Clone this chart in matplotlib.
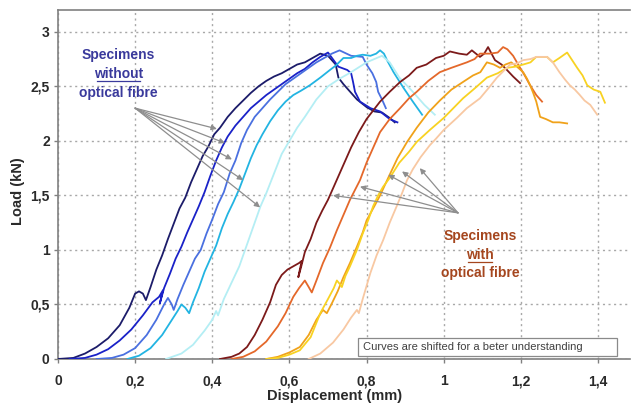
import matplotlib
matplotlib.use("Agg")
import matplotlib.pyplot as plt
from matplotlib.patches import Rectangle

plt.rcParams['font.family'] = ['Liberation Sans', 'DejaVu Sans']

# ---------------- data ----------------
xticks = [0, 0.2, 0.4, 0.6, 0.8, 1.0, 1.2, 1.4]
xtick_labels = ['0', '0,2', '0,4', '0,6', '0,8', '1', '1,2', '1,4']
yticks = [0, 0.5, 1, 1.5, 2, 2.5, 3]
ytick_labels = ['0', '0,5', '1', '1,5', '2', '2,5', '3']

# Specimens without optical fibre
b1_x = [0.0, 0.04, 0.07, 0.10, 0.13, 0.16, 0.185, 0.20, 0.21, 0.22, 0.228, 0.24, 0.255, 0.27, 0.285, 0.30, 0.315,
        0.33, 0.345, 0.36, 0.375, 0.39, 0.405, 0.42, 0.44, 0.46, 0.48, 0.50, 0.52, 0.54, 0.56, 0.58, 0.60, 0.62,
        0.64, 0.66, 0.68, 0.70, 0.72, 0.727, 0.74, 0.76, 0.775, 0.80, 0.82, 0.84, 0.86, 0.873]
b1_y = [0.0, 0.01, 0.05, 0.11, 0.19, 0.31, 0.47, 0.6, 0.62, 0.6, 0.54, 0.66, 0.82, 0.95, 1.1, 1.24, 1.38,
        1.48, 1.62, 1.74, 1.86, 1.95, 2.06, 2.12, 2.22, 2.3, 2.37, 2.44, 2.5, 2.55, 2.59, 2.62, 2.66, 2.7,
        2.72, 2.76, 2.8, 2.78, 2.7, 2.58, 2.52, 2.44, 2.38, 2.31, 2.27, 2.26, 2.21, 2.17]

b2_x = [0.03, 0.07, 0.10, 0.13, 0.16, 0.19, 0.22, 0.245, 0.262, 0.272, 0.264, 0.275, 0.29, 0.305, 0.32, 0.335,
        0.35, 0.365, 0.38, 0.395, 0.41, 0.425, 0.44, 0.46, 0.48, 0.50, 0.52, 0.54, 0.56, 0.58, 0.60, 0.62, 0.64,
        0.66, 0.68, 0.70, 0.727, 0.75, 0.76, 0.765, 0.77, 0.783, 0.81, 0.835, 0.86, 0.88]
b2_y = [0.0, 0.01, 0.04, 0.09, 0.17, 0.27, 0.4, 0.52, 0.57, 0.63, 0.51, 0.65, 0.78, 0.92, 1.03, 1.16,
        1.28, 1.4, 1.53, 1.68, 1.82, 1.94, 2.04, 2.14, 2.22, 2.3, 2.36, 2.42, 2.47, 2.52, 2.57, 2.62, 2.66,
        2.72, 2.77, 2.81, 2.68, 2.65, 2.62, 2.54, 2.45, 2.36, 2.3, 2.27, 2.2, 2.17]

b3_x = [0.10, 0.14, 0.17, 0.20, 0.23, 0.255, 0.275, 0.285, 0.295, 0.30, 0.31, 0.325, 0.34, 0.355, 0.37, 0.385,
        0.40, 0.415, 0.43, 0.445, 0.46, 0.475, 0.49, 0.51, 0.53, 0.55, 0.57, 0.59, 0.61, 0.63, 0.65, 0.67, 0.69,
        0.71, 0.73, 0.76, 0.79, 0.80, 0.815, 0.825, 0.83, 0.84, 0.85]
b3_y = [0.0, 0.01, 0.04, 0.1, 0.22, 0.36, 0.5, 0.56, 0.5, 0.45, 0.55, 0.68, 0.8, 0.92, 1.0, 1.15,
        1.28, 1.42, 1.53, 1.7, 1.82, 1.98, 2.1, 2.22, 2.3, 2.38, 2.45, 2.52, 2.57, 2.62, 2.67, 2.72, 2.76,
        2.8, 2.83, 2.78, 2.77, 2.7, 2.62, 2.54, 2.45, 2.38, 2.3]

b4_x = [0.18, 0.21, 0.24, 0.27, 0.29, 0.31, 0.32, 0.33, 0.34, 0.35, 0.365, 0.38, 0.395, 0.41, 0.425, 0.44, 0.455,
        0.47, 0.485, 0.50, 0.515, 0.53, 0.55, 0.57, 0.59, 0.61, 0.63, 0.653, 0.68, 0.705, 0.72, 0.74, 0.76, 0.775,
        0.79, 0.81, 0.825, 0.835, 0.845, 0.853, 0.87, 0.895, 0.92, 0.944]
b4_y = [0.0, 0.03, 0.1, 0.22, 0.33, 0.44, 0.5, 0.47, 0.42, 0.52, 0.65, 0.8, 0.92, 1.04, 1.2, 1.33, 1.44,
        1.56, 1.7, 1.84, 1.96, 2.06, 2.18, 2.28, 2.36, 2.42, 2.46, 2.51, 2.58, 2.65, 2.69, 2.76, 2.76, 2.78,
        2.79, 2.78, 2.8, 2.83, 2.8, 2.74, 2.63, 2.49, 2.36, 2.24]

b5_x = [0.28, 0.32, 0.35, 0.38, 0.40, 0.41, 0.415, 0.43, 0.45, 0.47, 0.49, 0.51, 0.525, 0.54, 0.56, 0.58, 0.60,
        0.62, 0.64, 0.67, 0.70, 0.73, 0.76, 0.80, 0.84, 0.86, 0.885, 0.92, 0.95, 0.977]
b5_y = [0.0, 0.05, 0.13, 0.26, 0.36, 0.44, 0.4, 0.55, 0.7, 0.85, 1.05, 1.25, 1.4, 1.52, 1.7, 1.88, 2.0,
        2.12, 2.22, 2.38, 2.5, 2.57, 2.63, 2.72, 2.78, 2.72, 2.58, 2.45, 2.33, 2.24]

# Specimens with optical fibre
w1_x = [0.42, 0.45, 0.47, 0.49, 0.51, 0.53, 0.55, 0.565, 0.58, 0.595, 0.61, 0.625, 0.632, 0.627, 0.623, 0.63,
        0.64, 0.655, 0.67, 0.685, 0.70, 0.715, 0.73, 0.745, 0.76, 0.78, 0.80, 0.835, 0.86, 0.887, 0.91, 0.93,
        0.955, 0.98, 1.0, 1.016, 1.04, 1.06, 1.073, 1.094, 1.105, 1.115, 1.133, 1.15, 1.164, 1.18, 1.198]
w1_y = [0.0, 0.02, 0.05, 0.11, 0.22, 0.36, 0.52, 0.68, 0.77, 0.82, 0.85, 0.88, 0.9, 0.82, 0.75, 0.84,
        0.98, 1.1, 1.25, 1.36, 1.46, 1.58, 1.7, 1.82, 1.94, 2.08, 2.2, 2.36, 2.45, 2.54, 2.6, 2.67,
        2.7, 2.76, 2.78, 2.82, 2.8, 2.79, 2.83, 2.77, 2.8, 2.86, 2.74, 2.7, 2.65, 2.59, 2.53]

w2_x = [0.45, 0.48, 0.51, 0.54, 0.57, 0.59, 0.61, 0.625, 0.64, 0.65, 0.658, 0.67, 0.687, 0.705, 0.723, 0.74,
        0.757, 0.77, 0.783, 0.80, 0.82, 0.835, 0.86, 0.887, 0.91, 0.93, 0.96, 0.99, 1.02, 1.06, 1.08, 1.094,
        1.12, 1.14, 1.154, 1.165, 1.18, 1.198, 1.21, 1.224, 1.24, 1.255]
w2_y = [0.0, 0.02, 0.07, 0.16, 0.3, 0.42, 0.57, 0.65, 0.72, 0.66, 0.61, 0.72, 0.88, 1.02, 1.18, 1.32,
        1.46, 1.55, 1.64, 1.8, 1.96, 2.08, 2.2, 2.3, 2.39, 2.45, 2.55, 2.63, 2.67, 2.72, 2.75, 2.8,
        2.8, 2.81, 2.86, 2.84, 2.78, 2.67, 2.6, 2.51, 2.42, 2.36]

w3_x = [0.54, 0.57, 0.60, 0.627, 0.65, 0.67, 0.687, 0.697, 0.71, 0.725, 0.74, 0.757, 0.775, 0.79, 0.80, 0.82,
        0.835, 0.856, 0.88, 0.905, 0.93, 0.96, 0.99, 1.02, 1.05, 1.076, 1.095, 1.112, 1.13, 1.146, 1.16, 1.175,
        1.19, 1.206, 1.216, 1.224, 1.232, 1.24, 1.25, 1.265, 1.283, 1.30, 1.32]
w3_y = [0.0, 0.02, 0.06, 0.11, 0.22, 0.36, 0.45, 0.42, 0.51, 0.62, 0.75, 0.88, 1.03, 1.16, 1.27, 1.4,
        1.5, 1.66, 1.84, 1.99, 2.12, 2.26, 2.37, 2.47, 2.54, 2.6, 2.63, 2.72, 2.7, 2.67, 2.7, 2.72,
        2.68, 2.63, 2.57, 2.51, 2.44, 2.36, 2.22, 2.2, 2.17, 2.17, 2.16]

w4_x = [0.54, 0.57, 0.60, 0.627, 0.655, 0.68, 0.70, 0.715, 0.723, 0.73, 0.736, 0.745, 0.757, 0.775, 0.79, 0.805,
        0.817, 0.83, 0.843, 0.86, 0.885, 0.91, 0.93, 0.964, 1.0, 1.025, 1.05, 1.08, 1.112, 1.14, 1.164, 1.185,
        1.206, 1.225, 1.24, 1.268, 1.283, 1.30, 1.32, 1.333, 1.346, 1.36, 1.372, 1.389, 1.406, 1.418]
w4_y = [0.0, 0.01, 0.04, 0.08, 0.2, 0.42, 0.55, 0.65, 0.72, 0.69, 0.66, 0.76, 0.85, 1.0, 1.15, 1.28,
        1.4, 1.5, 1.58, 1.66, 1.8, 1.9, 1.99, 2.1, 2.21, 2.3, 2.39, 2.48, 2.58, 2.62, 2.67, 2.68,
        2.7, 2.72, 2.77, 2.77, 2.72, 2.76, 2.81, 2.74, 2.67, 2.6, 2.51, 2.47, 2.45, 2.35]

w5_x = [0.65, 0.68, 0.713, 0.74, 0.76, 0.775, 0.78, 0.79, 0.81, 0.826, 0.843, 0.86, 0.878, 0.892, 0.905, 0.92,
        0.94, 0.964, 0.98, 1.0, 1.034, 1.06, 1.094, 1.12, 1.138, 1.155, 1.172, 1.19, 1.206, 1.225, 1.24, 1.268,
        1.283, 1.30, 1.315, 1.327, 1.34, 1.353, 1.365, 1.38, 1.398]
w5_y = [0.0, 0.05, 0.15, 0.27, 0.38, 0.45, 0.42, 0.55, 0.79, 0.95, 1.09, 1.25, 1.4, 1.52, 1.64, 1.74,
        1.85, 1.96, 2.02, 2.1, 2.21, 2.3, 2.39, 2.5, 2.58, 2.64, 2.7, 2.71, 2.74, 2.75, 2.77, 2.77,
        2.72, 2.63, 2.56, 2.51, 2.47, 2.42, 2.37, 2.33, 2.24]

series = [
    (b1_x, b1_y, '#1c1c6a'),
    (b2_x, b2_y, '#1a22c8'),
    (b3_x, b3_y, '#4a70e0'),
    (b4_x, b4_y, '#22b4e2'),
    (b5_x, b5_y, '#b4eef4'),
    (w1_x, w1_y, '#7c1a1a'),
    (w2_x, w2_y, '#e4682a'),
    (w3_x, w3_y, '#f0a21a'),
    (w4_x, w4_y, '#f8d222'),
    (w5_x, w5_y, '#f8c8a2'),
]

# arrow origins / targets (data coords)
left_origin = (0.20, 2.30)
left_targets = [(0.412, 2.11), (0.433, 1.98), (0.451, 1.83), (0.48, 1.64), (0.524, 1.39)]
right_origin = (1.037, 1.34)
right_targets = [(0.713, 1.50), (0.783, 1.58), (0.856, 1.69), (0.892, 1.72), (0.938, 1.75)]

# ---------------- figure ----------------
W, H = 631, 407
fig = plt.figure(figsize=(W / 100, H / 100), dpi=100)
ax = fig.add_axes([58 / W, (H - 359) / H, (630 - 58) / W, (359 - 10) / H])

for xs, ys, c in series:
    ax.plot(xs, ys, color=c, lw=1.3, solid_joinstyle='round', zorder=3)

ax.set_xlim(0, 1.483)
ax.set_ylim(0, 3.2)
ax.set_xticks(xticks)
ax.set_xticklabels(xtick_labels)
ax.set_yticks(yticks)
ax.set_yticklabels(ytick_labels)

ax.grid(True, linestyle=(0, (1.5, 2.5)), color='#a8a8a8', lw=1.0, zorder=0)
for s in ['left', 'bottom', 'top']:
    ax.spines[s].set_color('#808080')
    ax.spines[s].set_linewidth(1.2)
ax.spines['right'].set_visible(False)
ax.tick_params(axis='both', direction='out', length=3, width=1, color='#808080',
               labelsize=10, labelcolor='#2a2a2a')
ax.tick_params(axis='x', pad=8)
ax.tick_params(axis='y', pad=3)
for lab in ax.get_xticklabels() + ax.get_yticklabels():
    lab.set_fontweight('bold')

ax.set_xlabel('Displacement (mm)', fontsize=10.5, fontweight='bold', color='#2a2a2a', va='center')
ax.xaxis.set_label_coords((335 - 58) / (630 - 58), -(396 - 359) / (359 - 10))
ax.set_ylabel('Load (kN)', fontsize=10.5, fontweight='bold', color='#2a2a2a', va='center')
ax.yaxis.set_label_coords(-(58 - 18) / (630 - 58), 0.48)

# annotations
blue_txt = '#3a3a9c'
brown_txt = '#a5461e'
ax.text(0.157, 2.79, 'Specimens', color=blue_txt, fontsize=10, fontweight='bold', ha='center', va='center')
ax.text(0.157, 2.615, 'without', color=blue_txt, fontsize=10, fontweight='bold', ha='center', va='center')
ax.text(0.157, 2.44, 'optical fibre', color=blue_txt, fontsize=10, fontweight='bold', ha='center', va='center')
ax.plot([0.102, 0.213], [2.548, 2.548], color=blue_txt, lw=0.9)

ax.text(1.094, 1.128, 'Specimens', color=brown_txt, fontsize=10, fontweight='bold', ha='center', va='center')
ax.text(1.094, 0.954, 'with', color=brown_txt, fontsize=10, fontweight='bold', ha='center', va='center')
ax.text(1.094, 0.789, 'optical fibre', color=brown_txt, fontsize=10, fontweight='bold', ha='center', va='center')
ax.plot([1.063, 1.125], [0.89, 0.89], color=brown_txt, lw=0.9)

arrow_kw = dict(arrowstyle='-|>', color='#8e8e8e', lw=0.9, mutation_scale=8, shrinkA=0, shrinkB=0)
for t in left_targets:
    ax.annotate('', xy=t, xytext=left_origin, arrowprops=arrow_kw, zorder=4)
for t in right_targets:
    ax.annotate('', xy=t, xytext=right_origin, arrowprops=arrow_kw, zorder=4)

ax.add_patch(Rectangle((0.778, 0.028), 1.449 - 0.778, 0.165, facecolor='white',
                       edgecolor='#8a8a8a', lw=0.9, zorder=5))
ax.text(0.79, 0.108, 'Curves are shifted for a beter understanding', fontsize=8,
        color='#404040', ha='left', va='center', zorder=6)

fig.savefig('out.png', dpi=100)
